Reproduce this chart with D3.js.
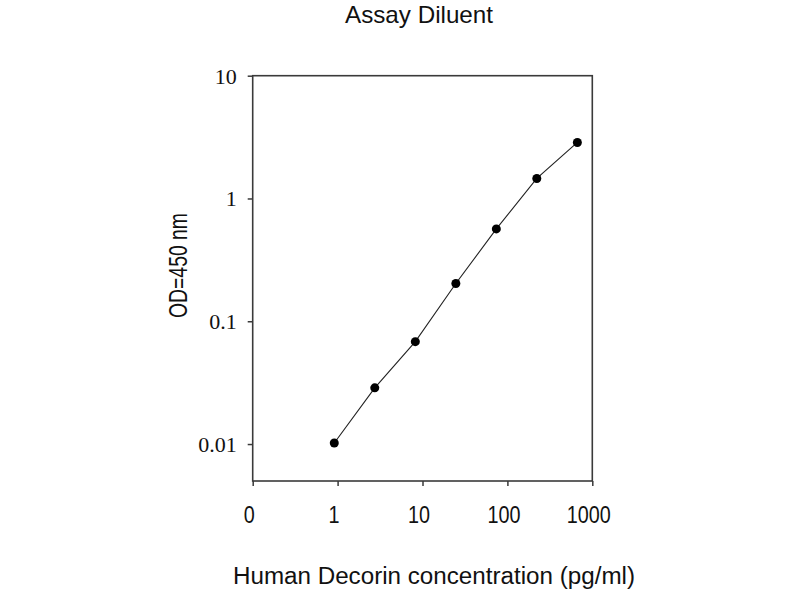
<!DOCTYPE html>
<html>
<head>
<meta charset="utf-8">
<script src="https://cdn.jsdelivr.net/npm/d3@7"></script>
<style>
  html, body { margin: 0; padding: 0; background: #fff; }
  svg { display: block; }
</style>
</head>
<body>
<svg id="chart" width="800" height="600"></svg>
<script>
// ---- data ----
const concentration = [0.914, 2.74, 8.23, 24.7, 74.1, 222, 667];
const odValues = [0.0102, 0.0287, 0.0682, 0.203, 0.565, 1.456, 2.86];
const xTickValues = [0.1, 1, 10, 100, 1000];
const xTickLabels = ["0", "1", "10", "100", "1000"];
const yTickValues = [0.01, 0.1, 1, 10];
const yTickLabels = ["0.01", "0.1", "1", "10"];
const titleText = "Assay Diluent";
const xTitleText = "Human Decorin concentration (pg/ml)";
const yTitleText = "OD=450 nm";

// ---- layout ----
const plotLeft = 252.7, plotRight = 592.3, plotTop = 75.7, plotBottom = 481;
const svg = d3.select("#chart");

const x = d3.scaleLog().domain([0.1, 1000]).range([plotLeft, plotRight]);
const y = d3.scaleLog().domain([0.005, 10]).range([plotBottom, plotTop]);

const axisColor = "#3a3a3a";

// frame
svg.append("rect")
  .attr("x", plotLeft).attr("y", plotTop)
  .attr("width", plotRight - plotLeft).attr("height", plotBottom - plotTop)
  .attr("fill", "none").attr("stroke", axisColor).attr("stroke-width", 1.6);

// x axis
const xAxis = d3.axisBottom(x)
  .tickValues(xTickValues)
  .tickSize(5)
  .tickFormat((d, i) => xTickLabels[i]);
const gx = svg.append("g").attr("transform", `translate(0,${plotBottom})`).call(xAxis);
gx.select(".domain").remove();
gx.selectAll(".tick line").attr("stroke", axisColor).attr("stroke-width", 1.5);
gx.selectAll(".tick text")
  .attr("y", 0).attr("dy", 0)
  .attr("transform", "translate(-4,42)")
  .attr("fill", "#111")
  .style("font-family", "'Liberation Sans', Arial, sans-serif")
  .style("font-size", "23px")
  .attr("textLength", (d, i) => xTickLabels[i].length * 11)
  .attr("lengthAdjust", "spacingAndGlyphs");

// y axis
const yAxis = d3.axisLeft(y)
  .tickValues(yTickValues)
  .tickSize(5)
  .tickFormat((d, i) => yTickLabels[i]);
const gy = svg.append("g").attr("transform", `translate(${plotLeft},0)`).call(yAxis);
gy.select(".domain").remove();
gy.selectAll(".tick line").attr("stroke", axisColor).attr("stroke-width", 1.5);
gy.selectAll(".tick text")
  .attr("x", -16).attr("dy", "0.34em")
  .attr("fill", "#111")
  .style("font-family", "'Liberation Serif', 'Times New Roman', serif")
  .style("font-size", "22px");

// line
const line = d3.line()
  .x((d, i) => x(concentration[i]))
  .y(d => y(d));
svg.append("path")
  .datum(odValues)
  .attr("d", line)
  .attr("fill", "none")
  .attr("stroke", "#222")
  .attr("stroke-width", 1.1);

// points
svg.append("g").selectAll("circle")
  .data(odValues)
  .join("circle")
  .attr("cx", (d, i) => x(concentration[i]))
  .attr("cy", d => y(d))
  .attr("r", 4.5)
  .attr("fill", "#000");

// titles
svg.append("text")
  .attr("x", 419).attr("y", 23)
  .attr("text-anchor", "middle")
  .attr("fill", "#111")
  .style("font-family", "'Liberation Sans', Arial, sans-serif")
  .style("font-size", "24px")
  .attr("textLength", 148).attr("lengthAdjust", "spacingAndGlyphs")
  .text(titleText);

svg.append("text")
  .attr("x", 434).attr("y", 584)
  .attr("text-anchor", "middle")
  .attr("fill", "#111")
  .style("font-family", "'Liberation Sans', Arial, sans-serif")
  .style("font-size", "23px")
  .attr("textLength", 402).attr("lengthAdjust", "spacingAndGlyphs")
  .text(xTitleText);

svg.append("text")
  .attr("transform", "translate(186.5,265.5) rotate(-90)")
  .attr("text-anchor", "middle")
  .attr("fill", "#111")
  .style("font-family", "'Liberation Sans', Arial, sans-serif")
  .style("font-size", "25px")
  .attr("textLength", 105).attr("lengthAdjust", "spacingAndGlyphs")
  .text(yTitleText);
</script>
</body>
</html>
